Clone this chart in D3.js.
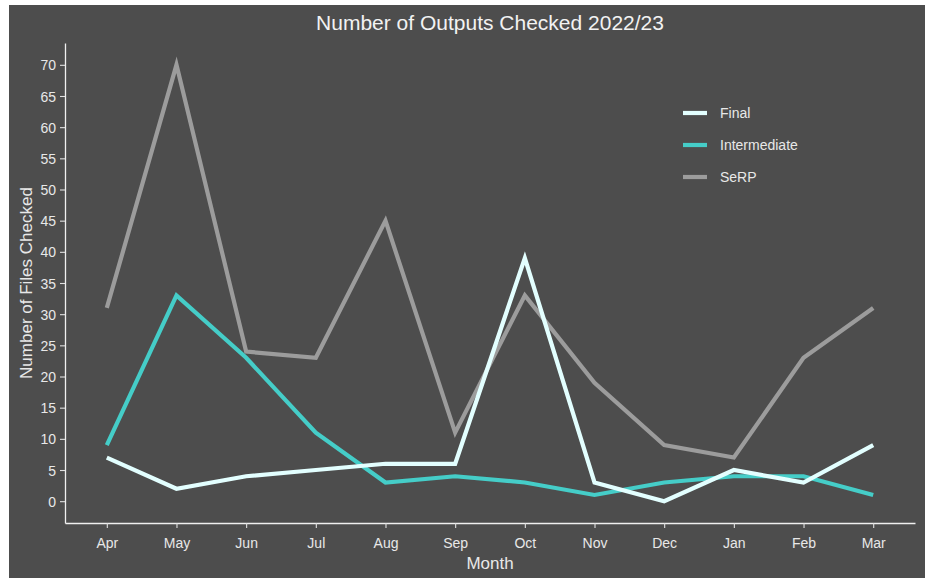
<!DOCTYPE html>
<html>
<head>
<meta charset="utf-8">
<script src="https://cdn.jsdelivr.net/npm/d3@7"></script>
<style>
  body { margin: 0; background: #ffffff; }
  svg { display: block; font-family: "Liberation Sans", Arial, sans-serif; }
</style>
</head>
<body>
<svg id="chart" width="930" height="578"></svg>
<script>
// data
const months = ["Apr", "May", "Jun", "Jul", "Aug", "Sep", "Oct", "Nov", "Dec", "Jan", "Feb", "Mar"];
const finalVals = [7, 2, 4, 5, 6, 6, 39, 3, 0, 5, 3, 9];
const intermediateVals = [9, 33, 23, 11, 3, 4, 3, 1, 3, 4, 4, 1];
const serpVals = [31, 70, 24, 23, 45, 11, 33, 19, 9, 7, 23, 31];
const seriesNames = ["Final", "Intermediate", "SeRP"];
const yTicks = [0, 5, 10, 15, 20, 25, 30, 35, 40, 45, 50, 55, 60, 65, 70];

const colors = {"Final": "#e3ffff", "Intermediate": "#45cdc8", "SeRP": "#9c9c9c"};
const textCol = "#e8e8e8";

const svg = d3.select("#chart");

// dark panel
svg.append("rect")
    .attr("x", 9).attr("y", 5)
    .attr("width", 916).attr("height", 573)
    .attr("fill", "#4d4d4d");

const plotLeft = 65, plotRight = 915, plotTop = 43, plotBottom = 523;

// discrete x like ggplot: 0.6 expansion each side
const xScale = d3.scalePoint()
    .domain(months)
    .range([plotLeft, plotRight])
    .padding(0.6);

const yScale = d3.scaleLinear()
    .domain([-3.5, 73.5])
    .range([plotBottom, plotTop]);

const series = [
    {name: "Final", values: finalVals},
    {name: "Intermediate", values: intermediateVals},
    {name: "SeRP", values: serpVals}
];

// axes
const xAxisG = svg.append("g")
    .attr("transform", `translate(0,${plotBottom})`)
    .call(d3.axisBottom(xScale).tickSizeInner(5).tickSizeOuter(0).tickPadding(10));

const yAxisG = svg.append("g")
    .attr("transform", `translate(${plotLeft},0)`)
    .call(d3.axisLeft(yScale).tickValues(yTicks).tickSizeInner(5).tickSizeOuter(0).tickPadding(4));

[xAxisG, yAxisG].forEach(ax => {
    ax.select(".domain").attr("stroke", "#f0f0f0").attr("stroke-width", 1.3);
    ax.selectAll(".tick line").attr("stroke", "#e0e0e0").attr("stroke-width", 1.1);
    ax.selectAll("text")
        .attr("fill", textCol)
        .attr("font-size", "14px")
        .attr("font-family", "Liberation Sans, Arial, sans-serif");
});
yAxisG.selectAll("text").attr("dy", "0.36em");

// lines
const line = d3.line()
    .x((d, i) => xScale(months[i]))
    .y(d => yScale(d));

svg.selectAll(".series")
    .data(series.slice().reverse())
    .enter().append("path")
        .attr("class", "series")
        .attr("d", d => line(d.values))
        .attr("fill", "none")
        .attr("stroke", d => colors[d.name])
        .attr("stroke-width", 4.2)
        .attr("stroke-linejoin", "miter");

// title
svg.append("text")
    .attr("x", (plotLeft + plotRight) / 2)
    .attr("y", 30)
    .attr("text-anchor", "middle")
    .attr("fill", "#f2f2f2")
    .attr("font-size", "21px")
    .text("Number of Outputs Checked 2022/23");

// axis titles
svg.append("text")
    .attr("x", (plotLeft + plotRight) / 2)
    .attr("y", 569)
    .attr("text-anchor", "middle")
    .attr("fill", textCol)
    .attr("font-size", "17px")
    .text("Month");

svg.append("text")
    .attr("transform", `translate(32,${(plotTop + plotBottom) / 2}) rotate(-90)`)
    .attr("text-anchor", "middle")
    .attr("fill", textCol)
    .attr("font-size", "17px")
    .text("Number of Files Checked");

// legend
const legend = svg.append("g")
    .attr("transform", "translate(683,113)");

const item = legend.selectAll(".item")
    .data(seriesNames)
    .enter().append("g")
        .attr("class", "item")
        .attr("transform", (d, i) => `translate(0,${i * 32})`);

item.append("line")
    .attr("x1", 0).attr("x2", 24)
    .attr("stroke", d => colors[d])
    .attr("stroke-width", 4.2);

item.append("text")
    .attr("x", 37)
    .attr("y", 0)
    .attr("dy", "0.36em")
    .attr("fill", textCol)
    .attr("font-size", "14px")
    .text(d => d);
</script>
</body>
</html>
